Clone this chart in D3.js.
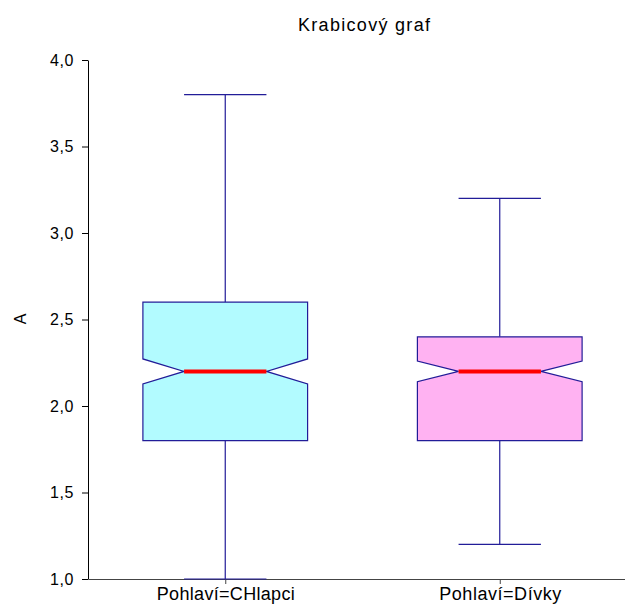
<!DOCTYPE html>
<html>
<head>
<meta charset="utf-8">
<script src="https://cdn.jsdelivr.net/npm/d3@7"></script>
<style>
  html, body { margin: 0; padding: 0; background: #fff; }
  svg { display: block; font-family: "Liberation Sans", Arial, sans-serif; }
</style>
</head>
<body>
<svg id="chart" width="625" height="605"></svg>
<script>
// Group labels and five-number summaries (with notch limits around the median)
const categories = ["Pohlaví=CHlapci", "Pohlaví=Dívky"];
const mins     = [1.0, 1.2];
const q1s      = [1.8, 1.8];
const medians  = [2.2, 2.2];
const q3s      = [2.6, 2.4];
const maxs     = [3.8, 3.2];
const notchLow  = [2.128, 2.14];
const notchHigh = [2.272, 2.26];
const fills    = ["#b2fbff", "#ffb2f2"];
const yTicks   = [1.0, 1.5, 2.0, 2.5, 3.0, 3.5, 4.0];
const titleText = "Krabicový graf";
const yLabel = "A";

const svg = d3.select("#chart");
const plotLeft = 88, plotRight = 637, plotTop = 60, plotBottom = 579;

const y = d3.scaleLinear().domain([1, 4]).range([plotBottom, plotTop]);
const x = d3.scalePoint().domain(categories).range([plotLeft, plotRight]).padding(0.5);
const step = x.step();
const boxW = step * 0.6;

// Title
svg.append("text")
  .attr("x", 364).attr("y", 31)
  .attr("text-anchor", "middle")
  .attr("font-size", 18)
  .attr("textLength", 132).attr("lengthAdjust", "spacing")
  .attr("fill", "#000")
  .text(titleText);

// Y axis
const yAxis = svg.append("g")
  .attr("transform", `translate(${plotLeft},0)`)
  .call(d3.axisLeft(y).tickValues(yTicks).tickSize(6).tickPadding(8).tickSizeOuter(0)
    .tickFormat(d => d3.format(".1f")(d).replace(".", ",")));
yAxis.select(".domain").attr("stroke", "#000");
yAxis.selectAll(".tick line").attr("stroke", "#000");
yAxis.selectAll(".tick text")
  .attr("font-size", 16).attr("fill", "#000")
  .attr("font-family", "Liberation Sans, Arial, sans-serif")
  .style("letter-spacing", "0.6px");

// Y axis title
svg.append("text")
  .attr("transform", `translate(26,319) rotate(-90)`)
  .attr("text-anchor", "middle")
  .attr("font-size", 16)
  .attr("fill", "#000")
  .text(yLabel);

// X axis
const xAxis = svg.append("g")
  .attr("transform", `translate(0,${plotBottom})`)
  .call(d3.axisBottom(x).tickSize(5).tickSizeOuter(0));
xAxis.select(".domain").attr("stroke", "#444");
xAxis.selectAll(".tick line").attr("stroke", "#444");
xAxis.selectAll(".tick text")
  .attr("y", 21).attr("dy", 0)
  .attr("font-size", 18).attr("fill", "#000")
  .attr("font-family", "Liberation Sans, Arial, sans-serif")
  .attr("textLength", d => d === categories[0] ? 138 : 122)
  .attr("lengthAdjust", "spacing");

// Boxes
const stroke = "#221c98";
const data = categories.map((c, i) => ({
  cat: c, min: mins[i], q1: q1s[i], med: medians[i], q3: q3s[i], max: maxs[i],
  nlo: notchLow[i], nhi: notchHigh[i], fill: fills[i]
}));

const g = svg.append("g");
data.forEach(d => {
  const cx = x(d.cat);
  const x0 = cx - boxW / 2, x1 = cx + boxW / 2;
  const xi0 = cx - boxW / 4, xi1 = cx + boxW / 4;
  const capHalf = boxW / 4;

  // whiskers
  g.append("line").attr("x1", cx).attr("x2", cx)
    .attr("y1", y(d.q3)).attr("y2", y(d.max))
    .attr("stroke", stroke).attr("stroke-width", 1.2);
  g.append("line").attr("x1", cx).attr("x2", cx)
    .attr("y1", y(d.q1)).attr("y2", y(d.min))
    .attr("stroke", stroke).attr("stroke-width", 1.2);
  g.append("line").attr("x1", cx - capHalf).attr("x2", cx + capHalf)
    .attr("y1", y(d.max)).attr("y2", y(d.max))
    .attr("stroke", stroke).attr("stroke-width", 1.2);
  g.append("line").attr("x1", cx - capHalf).attr("x2", cx + capHalf)
    .attr("y1", y(d.min)).attr("y2", y(d.min))
    .attr("stroke", stroke).attr("stroke-width", 1.2);

  // notched box
  const pts = [
    [x0, y(d.q3)], [x1, y(d.q3)], [x1, y(d.nhi)], [xi1, y(d.med)],
    [x1, y(d.nlo)], [x1, y(d.q1)], [x0, y(d.q1)], [x0, y(d.nlo)],
    [xi0, y(d.med)], [x0, y(d.nhi)]
  ];
  g.append("path")
    .attr("d", d3.line()(pts) + "Z")
    .attr("fill", d.fill)
    .attr("stroke", stroke).attr("stroke-width", 1.2)
    .attr("stroke-linejoin", "miter");

  // median
  g.append("line").attr("x1", xi0).attr("x2", xi1)
    .attr("y1", y(d.med)).attr("y2", y(d.med))
    .attr("stroke", "#ff0000").attr("stroke-width", 4);
});
</script>
</body>
</html>
